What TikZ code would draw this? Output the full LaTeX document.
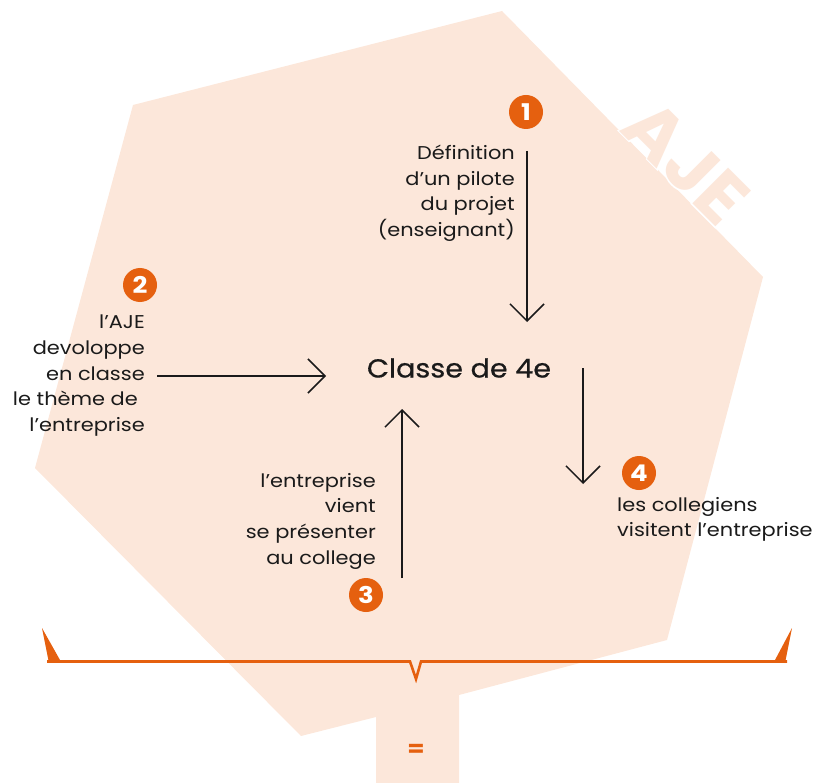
\documentclass[tikz,border=0pt]{standalone}
\usepackage{fontspec}
\setmainfont{Poppins}[FakeStretch=1.13]
\newfontfamily\classefont{Poppins}[FakeStretch=1.1,FakeBold=0.6]
\newfontfamily\ajefont{Poppins}[FakeStretch=1.05]
\newfontfamily\ajehalo{Poppins}[FakeStretch=1.05,BoldFeatures={FakeBold=4}]
\usetikzlibrary{arrows.meta,calc}
\definecolor{peach}{HTML}{FCE7DA}
\definecolor{ajeorange}{HTML}{E5600F}
\definecolor{ink}{HTML}{1A1A1A}
\begin{document}
\begin{tikzpicture}[x=1pt,y=-1pt,
  lbl/.style={inner sep=0pt, font=\fontsize{18.5}{25.6}\selectfont, text=ink},
  num/.style={circle, fill=ajeorange, minimum size=34pt, inner sep=0pt, text=white, font=\fontsize{23}{23}\selectfont\bfseries},
  flow/.style={draw=ink, line width=1.5pt, -{Straight Barb[length=17pt,width=34pt]}},
  ajetxt/.style={rotate=-45, inner sep=0pt}]
\useasboundingbox (0,0) rectangle (818,783);
% background shape
\fill[peach] (133,105) -- (502,11) -- (763,277) -- (667,640) -- (459,695) -- (459,790) -- (376,790) -- (376,717) -- (301,736) -- (35,468) -- cycle;
% AJE watermark with white halo
\node[ajetxt, text=white, font=\ajehalo\bfseries\fontsize{72}{72}\selectfont] (ajehalo) at (686,162) {AJE};
\node[ajetxt, text=peach, font=\ajefont\bfseries\fontsize{72}{72}\selectfont] (aje) at (686,162) {AJE};
% numbered circles
\node[num] (n1) at (526,112) {1};
\node[num] (n2) at (140,285) {2};
\node[num] (n3) at (366,595) {3};
\node[num] (n4) at (639,473) {4};
% texts
\node[lbl, align=right, anchor=north east] (t1) at (515,145) {Définition\\d’un pilote\\du projet\\(enseignant)};
\node[lbl, align=right, anchor=north east] (t2) at (145,315) {l’AJE\\devoloppe\\en classe\\le thème de\hbox to 7pt{}\\l’entreprise};
\node[lbl, align=right, anchor=north east] (t3) at (376,473) {l’entreprise\\vient\\se présenter\\au college};
\node[lbl, align=left, anchor=north west] (t4) at (617,497) {les collegiens\\visitent l’entreprise};
\node[inner sep=0pt, font=\classefont\fontsize{26}{26}\selectfont, text=ink] (classe) at (459,368) {Classe de 4e};
% arrows
\coordinate (a1s) at (527,151); \coordinate (a1e) at (527,322);
\coordinate (a2s) at (157,376); \coordinate (a2e) at (326,376);
\coordinate (a3s) at (402,578); \coordinate (a3e) at (402,409);
\coordinate (a4s) at (583,368); \coordinate (a4e) at (583,484);
\draw[flow] (a1s) -- (a1e);
\draw[flow] (a2s) -- (a2e);
\draw[flow] (a3s) -- (a3e);
\draw[flow] (a4s) -- (a4e);
% bracket
\fill[ajeorange] (42,628) -- (49,663) -- (60,660) -- cycle;
\fill[ajeorange] (792,628) -- (785,663) -- (775,660) -- cycle;
\draw[ajeorange, line width=2.6pt, line join=miter] (47,661.5) -- (410,661.5) -- (416,679) -- (421,661.5) -- (787,661.5);
\node[inner sep=0pt, text=ajeorange, font=\fontsize{22}{22}\selectfont\bfseries] (eq) at (416,750) {=};
\end{tikzpicture}
\end{document}
